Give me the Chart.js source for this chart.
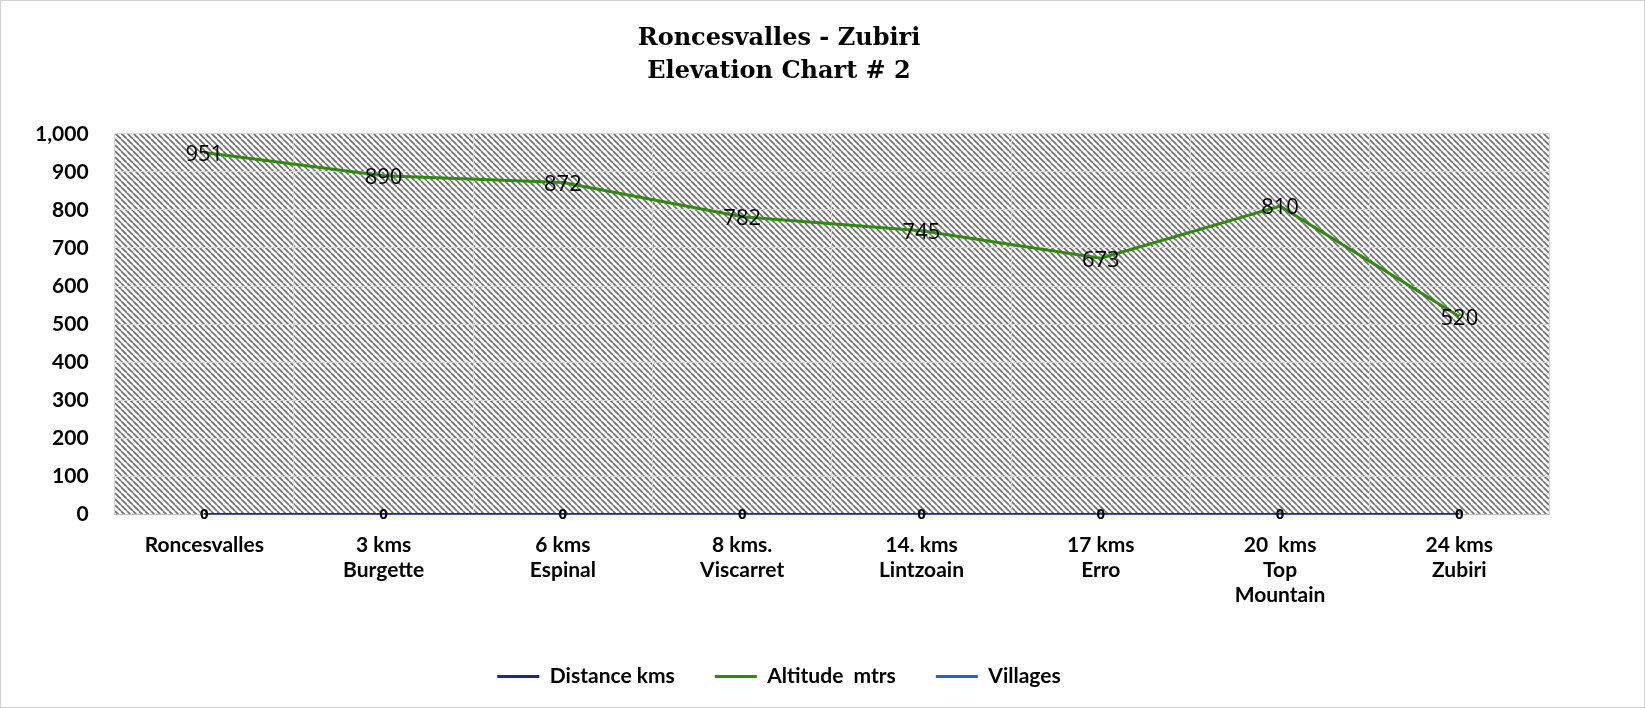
<!DOCTYPE html>
<html><head><meta charset="utf-8">
<script src="https://cdn.jsdelivr.net/npm/chart.js@4"></script>
<style>html,body{margin:0;padding:0;background:#fff}#w{width:1645px;height:708px;position:relative;box-sizing:border-box;border:1px solid #d0d0d0}canvas{display:block}</style>
</head><body><div id="w"><canvas id="c" width="1643" height="706"></canvas></div>
<script>
const categories=[["Roncesvalles"],["3 kms","Burgette"],["6 kms","Espinal"],["8 kms.","Viscarret"],["14. kms","Lintzoain"],["17 kms","Erro"],["20  kms","Top","Mountain"],["24 kms","Zubiri"]];
const distanceKms=[0,0,0,0,0,0,0,0];
const altitudeMtrs=[951,890,872,782,745,673,810,520];
const villages=[0,0,0,0,0,0,0,0];
const yTicks=[0,100,200,300,400,500,600,700,800,900,1000];

const pc=document.createElement('canvas');pc.width=6;pc.height=6;
const px=pc.getContext('2d');px.fillStyle='#fff';px.fillRect(0,0,6,6);
px.strokeStyle='#6e6e6e';px.lineWidth=1.6;
for(const o of [-6,0,6]){px.beginPath();px.moveTo(o,0);px.lineTo(o+6,6);px.stroke();}
const bgPlugin={id:'bg',beforeDraw(ch){const a=ch.chartArea,c=ch.ctx;c.save();c.fillStyle=c.createPattern(pc,'repeat');c.fillRect(a.left,a.top,a.right-a.left,a.bottom-a.top);c.restore();}};
const lblPlugin={id:'lbl',afterDatasetsDraw(ch){const c=ch.ctx;c.save();c.textAlign='center';c.textBaseline='middle';
ch.data.datasets.forEach((ds,i)=>{const m=ch.getDatasetMeta(i);m.data.forEach((p,j)=>{
if(i===1){c.font='22px "Open Sans", sans-serif';c.fillStyle='#000';c.fillText(ds.data[j],p.x,p.y+2);}
else if(i===2){c.font='bold 15px "Open Sans", sans-serif';c.fillStyle='#000';c.fillText(ds.data[j],p.x,p.y);}
});});c.restore();}};
new Chart(document.getElementById('c'),{type:'line',
data:{labels:categories,datasets:[
{label:'Distance kms',data:distanceKms,borderColor:'#1f2a7a',borderWidth:3,pointRadius:0},
{label:'Altitude  mtrs',data:altitudeMtrs,borderColor:'#2e8b0e',borderWidth:3,pointRadius:0},
{label:'Villages',data:villages,borderColor:'#2a62c0',borderWidth:3,pointRadius:0}]},
options:{responsive:false,animation:false,devicePixelRatio:1,
layout:{padding:{left:8,right:95,top:10,bottom:10}},
plugins:{title:{display:true,text:['Roncesvalles - Zubiri','Elevation Chart # 2'],color:'#000',font:{family:'"DejaVu Serif", serif',size:24,weight:'bold',lineHeight:1.35},padding:{top:12,bottom:46}},
legend:{position:'bottom',labels:{color:'#000',font:{family:'Lato, sans-serif',size:21,weight:'bold'},boxWidth:42,boxHeight:0,padding:40}},
tooltip:{enabled:false}},
scales:{x:{offset:true,grid:{offset:true,color:'#d9d9d9',drawTicks:false},border:{color:'#bfbfbf'},ticks:{color:'#000',font:{family:'Lato, sans-serif',size:21,weight:'bold'},padding:18,maxRotation:0,autoSkip:false}},
y:{min:yTicks[0],max:yTicks[yTicks.length-1],grid:{color:'#d9d9d9',drawTicks:false},border:{display:false},ticks:{stepSize:100,color:'#000',font:{family:'Lato, sans-serif',size:21,weight:'bold'},padding:26}}}},
plugins:[bgPlugin,lblPlugin]});
</script></body></html>
